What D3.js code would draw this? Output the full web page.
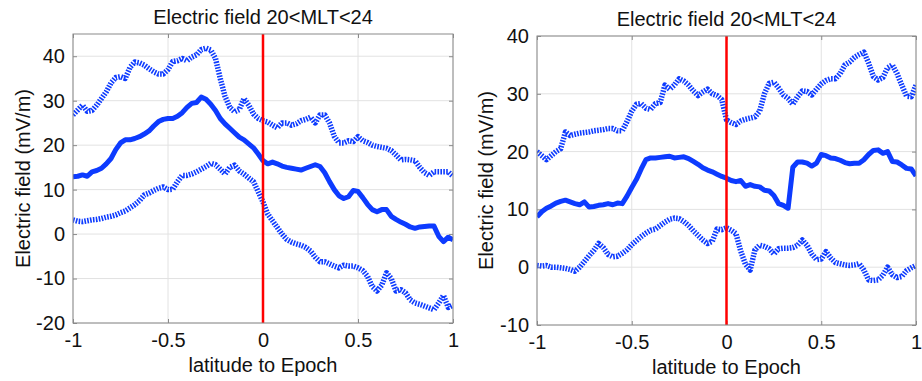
<!DOCTYPE html>
<html>
<head>
<meta charset="utf-8">
<script src="https://cdn.jsdelivr.net/npm/d3@7/dist/d3.min.js"></script>
<style>
  body { margin: 0; background: #fff; }
  text { font-family: "Liberation Sans", Arial, sans-serif; }
</style>
</head>
<body>
<svg width="922" height="381"></svg>
<script>
// x values shared by every series (latitude relative to epoch)
const latitude = [
  -1, -0.975, -0.95, -0.925, -0.9, -0.875, -0.85, -0.825, -0.8, -0.775,
  -0.75, -0.725, -0.7, -0.675, -0.65, -0.625, -0.6, -0.575, -0.55, -0.525,
  -0.5, -0.475, -0.45, -0.425, -0.4, -0.375, -0.35, -0.325, -0.3, -0.275,
  -0.25, -0.225, -0.2, -0.175, -0.15, -0.125, -0.1, -0.075, -0.05, -0.025,
  0, 0.025, 0.05, 0.075, 0.1, 0.125, 0.15, 0.175, 0.2, 0.225,
  0.25, 0.275, 0.3, 0.325, 0.35, 0.375, 0.4, 0.425, 0.45, 0.475,
  0.5, 0.525, 0.55, 0.575, 0.6, 0.625, 0.65, 0.675, 0.7, 0.725,
  0.75, 0.775, 0.8, 0.825, 0.85, 0.875, 0.9, 0.925, 0.95, 0.975, 1
];

// left panel
const leftUpper = [
  26.8, 27.9, 29, 27.6, 27.8, 29, 30.5, 32, 34, 35.2,
  35.4, 35, 37.5, 38.7, 38.5, 38, 37.2, 36.5, 36, 36,
  37, 38.8, 39, 39.5, 39, 39.8, 40.3, 41.5, 41.8, 41.4,
  39.5, 35, 31, 28.5, 27.5, 28, 30.5, 29, 27, 26,
  25.5, 25.2, 24.5, 23.9, 25, 25, 24.5, 24.8, 25.5, 25.8,
  26.3, 25, 26.8, 26.8, 25, 22, 20.5, 20.5, 21, 20.8,
  21.9, 21, 20.6, 20, 19.7, 19.5, 19.3, 18.8, 17.8, 16.7,
  16.8, 16.7, 16.5, 15, 13.8, 13.2, 14, 14, 14, 14, 13
];
const leftMean = [
  12.9, 13, 13.3, 13, 14, 14.3, 14.8, 15.8, 17, 19,
  20.5, 21.2, 21.2, 21.5, 21.9, 22.5, 23.2, 24.3, 25.3, 25.8,
  26, 26, 26.5, 27.3, 28.5, 29.4, 29.6, 30.8, 30.3, 29.2,
  27.8, 26, 24.8, 23.8, 22.8, 21.8, 21.2, 20.3, 19.4, 18,
  16.5, 15.8, 16.2, 15.8, 15.3, 15, 14.8, 14.6, 14.4, 14.8,
  15.2, 15.6, 15.2, 13.8, 11.8, 10, 8.6, 8, 8.4, 9.8,
  9.6, 8.2, 6.7, 5.5, 5, 5.5, 5.5, 4, 3.3, 2.7,
  2.2, 1.6, 1.3, 1.6, 1.7, 1.8, 1.8, -0.5, -1.7, -0.7, -1.3
];
const leftLower = [
  3.2, 2.9, 2.8, 3, 3.2, 3.3, 3.5, 3.8, 4, 4.3,
  4.8, 5.2, 5.9, 6.6, 7.5, 8.8, 9.2, 9.8, 10.3, 10.6,
  10, 10.1, 11.8, 13.2, 13.2, 13.5, 14, 14.6, 15.2, 15.9,
  15.6, 14.6, 13.5, 15, 15.5, 14.2, 13.5, 12.6, 11.8, 9.5,
  7.2, 4.5, 3, 1.5, 0, -1.2, -1.8, -2.2, -2.5, -3,
  -3.8, -5.2, -6.2, -6.2, -6.7, -7.2, -7.6, -7, -7.2, -7.2,
  -7.6, -8.2, -9.5, -11.8, -12.8, -11.5, -8.7, -10, -12.8, -12.5,
  -13.2, -14.8, -15.5, -15.8, -16.2, -16.6, -17, -15.5, -13.8, -16.5, -16
];

// right panel
const rightUpper = [
  20, 19.3, 18.6, 19.3, 20, 20.5, 23.4, 22.8, 23, 23.2,
  23.3, 23.4, 23.6, 23.7, 23.8, 24, 24, 23.6, 23.6, 25.2,
  27, 28.2, 28.3, 27.5, 27.3, 28.3, 28.5, 31.5, 30.8, 31.5,
  32.6, 32.2, 31.5, 30.5, 29.7, 30.3, 30.8, 30, 29.7, 29,
  25.5, 25, 24.7, 25.3, 25.6, 25.8, 26, 27, 30, 31.8,
  32, 31, 29.8, 29.2, 28.2, 29.5, 30.5, 30.4, 29.8, 30.8,
  31.7, 32.3, 32.6, 32.6, 33.5, 35, 35.5, 36.3, 36.8, 37.2,
  35.3, 33, 32.4, 32.8, 34.5, 35, 33.5, 31.5, 29.6, 29.5, 31.5
];
const rightMean = [
  8.7, 9.6, 10.2, 10.6, 11.1, 11.4, 11.6, 11.3, 11, 10.8,
  11.3, 10.4, 10.5, 10.7, 10.8, 11, 10.8, 11.1, 11, 12.3,
  13.8, 15.2, 17, 18.6, 18.9, 18.9, 19, 19.1, 19.2, 18.9,
  19, 19.1, 18.8, 18.3, 17.8, 17.2, 16.8, 16.5, 16.1, 15.7,
  15.4, 15, 14.8, 15, 14, 14.3, 14, 13.9, 13.3, 13.2,
  12.4, 11, 10.7, 10.2, 17.3, 18.2, 18.2, 18, 17.5, 18,
  19.5, 19.3, 18.9, 18.8, 18.5, 18.1, 17.9, 18, 18, 18.6,
  19.5, 20.2, 20.3, 19.7, 20, 18.3, 18.2, 17.7, 17.1, 17, 15.8
];
const rightLower = [
  0.3, 0.2, 0.3, 0, 0, -0.1, -0.2, -0.4, -0.7, 0,
  1, 2, 2.9, 4.1, 3.4, 2.2, 1.8, 1.9, 2.4, 3,
  3.9, 4.6, 5.3, 5.9, 6.4, 6.6, 7.2, 7.8, 8.3, 8.5,
  8.4, 7.9, 7.2, 6.3, 5.5, 4.7, 4.1, 4.5, 6.6, 6.5,
  6.8, 6.4, 5.8, 2.8, 0.5, -0.5, 3, 3.8, 3.6, 3.2,
  2.3, 3.2, 3.3, 3.3, 3.4, 3.8, 4.7, 3.8, 2.3, 1.3,
  1.4, 2.7, 1.6, 0.8, 0.6, 0.4, 0.3, 0.4, 0.6, -0.5,
  -2.2, -2.3, -2.2, -1.4, 0, -1.3, -1.8, -1.6, -0.6, -0.1, 0.3
];

const xTicks = [-1, -0.5, 0, 0.5, 1];
const leftYTicks = [-20, -10, 0, 10, 20, 30, 40];
const rightYTicks = [-10, 0, 10, 20, 30, 40];
const titleText = 'Electric field 20<MLT<24';
const xLabelText = 'latitude to Epoch';
const yLabelText = 'Electric field (mV/m)';

const svg = d3.select('svg');
const blue = '#0d3bff';

const panels = [
  { left: 73, right: 453, top: 34, bottom: 323, yDomain: [-20, 45], yTicks: leftYTicks,
    series: [leftUpper, leftMean, leftLower], titleY: 24, yLabelX: 30 },
  { left: 537, right: 916, top: 36, bottom: 325, yDomain: [-10, 40], yTicks: rightYTicks,
    series: [rightUpper, rightMean, rightLower], titleY: 26, yLabelX: 493 }
];

panels.forEach((p, i) => {
  const w = p.right - p.left;
  const h = p.bottom - p.top;
  const x = d3.scaleLinear().domain([-1, 1]).range([0, w]);
  const y = d3.scaleLinear().domain(p.yDomain).range([h, 0]);

  const g = svg.append('g').attr('transform', `translate(${p.left},${p.top})`);

  g.append('clipPath').attr('id', 'clip' + i)
    .append('rect').attr('width', w).attr('height', h);

  // grid
  g.append('g').selectAll('line').data(xTicks).join('line')
    .attr('x1', d => x(d)).attr('x2', d => x(d)).attr('y1', 0).attr('y2', h)
    .attr('stroke', '#e2e2e2').attr('stroke-width', 1);
  g.append('g').selectAll('line').data(p.yTicks).join('line')
    .attr('y1', d => y(d)).attr('y2', d => y(d)).attr('x1', 0).attr('x2', w)
    .attr('stroke', '#e2e2e2').attr('stroke-width', 1);

  // axes with inward ticks
  const styleAxis = (sel) => {
    sel.select('.domain').remove();
    sel.selectAll('.tick line').attr('stroke', '#8a8a8a');
    sel.selectAll('.tick text').attr('fill', '#111').style('font-size', '20px')
      .style('font-family', '"Liberation Sans", Arial, sans-serif');
  };
  g.append('g').attr('transform', `translate(0,${h})`)
    .call(d3.axisBottom(x).tickValues(xTicks).tickFormat(d => String(d)).tickSizeInner(-4).tickSizeOuter(0).tickPadding(10))
    .call(styleAxis);
  g.append('g')
    .call(d3.axisLeft(y).tickValues(p.yTicks).tickFormat(d => String(d)).tickSizeInner(-4).tickSizeOuter(0).tickPadding(8))
    .call(styleAxis);
  g.append('g')
    .call(d3.axisTop(x).tickValues(xTicks).tickFormat('').tickSizeInner(-4).tickSizeOuter(0))
    .call(styleAxis);
  g.append('g').attr('transform', `translate(${w},0)`)
    .call(d3.axisRight(y).tickValues(p.yTicks).tickFormat('').tickSizeInner(-4).tickSizeOuter(0))
    .call(styleAxis);

  // series
  const line = d3.line().x((d, j) => x(latitude[j])).y(d => y(d));
  const lines = g.append('g').attr('clip-path', `url(#clip${i})`);
  p.series.forEach((vals, k) => {
    const path = lines.append('path').datum(vals)
      .attr('d', line)
      .attr('fill', 'none')
      .attr('stroke', blue)
      .attr('stroke-width', k === 1 ? 5 : 5.5)
      .attr('stroke-linejoin', 'round');
    if (k !== 1) path.attr('stroke-dasharray', '1.6,1.3');
  });

  // epoch line
  g.append('line')
    .attr('x1', x(0)).attr('x2', x(0)).attr('y1', 0).attr('y2', h)
    .attr('stroke', '#ff0000').attr('stroke-width', 2.5);

  // box
  g.append('rect').attr('width', w).attr('height', h)
    .attr('fill', 'none').attr('stroke', '#8a8a8a').attr('stroke-width', 1);

  // labels
  svg.append('text')
    .attr('x', p.left + w / 2).attr('y', p.titleY)
    .attr('text-anchor', 'middle').style('font-size', '20px').attr('fill', '#111')
    .text(titleText);
  svg.append('text')
    .attr('x', p.left + w / 2).attr('y', p.bottom + 49)
    .attr('text-anchor', 'middle').style('font-size', '20px').attr('fill', '#111')
    .text(xLabelText);
  svg.append('text')
    .attr('transform', `translate(${p.yLabelX},${p.top + h / 2}) rotate(-90)`)
    .attr('text-anchor', 'middle').style('font-size', '20px').attr('fill', '#111')
    .text(yLabelText);
});
</script>
</body>
</html>
